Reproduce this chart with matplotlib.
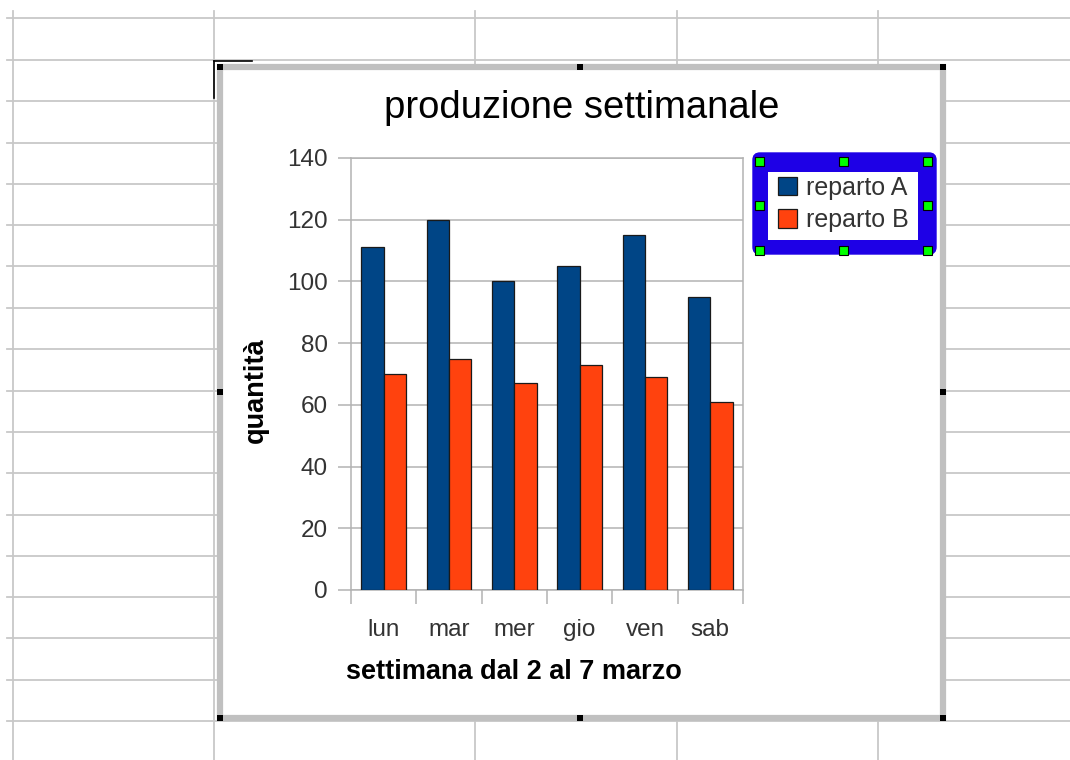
import matplotlib
matplotlib.use("Agg")
import matplotlib.pyplot as plt
from matplotlib.patches import Rectangle, FancyBboxPatch

# ---- data ----
categories = ["lun", "mar", "mer", "gio", "ven", "sab"]
reparto_a = [111, 120, 100, 105, 115, 95]
reparto_b = [70, 75, 67, 73, 69, 61]
series_names = ["reparto A", "reparto B"]
y_ticks = [0, 20, 40, 60, 80, 100, 120, 140]
title = "produzione settimanale"
x_title = "settimana dal 2 al 7 marzo"
y_title = "quantità"

COL_A = "#004586"
COL_B = "#ff420e"
GRID = "#c8c8c8"
AXGRAY = "#b3b3b3"
FONT = ["Liberation Sans", "DejaVu Sans"]
plt.rcParams["font.family"] = FONT

W, H = 1070, 760
fig = plt.figure(figsize=(W / 100, H / 100), dpi=100)

# background (spreadsheet) axes in pixel coordinates
bg = fig.add_axes([0, 0, 1, 1])
bg.set_xlim(0, W)
bg.set_ylim(H, 0)
bg.axis("off")

# spreadsheet grid
for y in [18, 60, 101, 142.5, 183.5, 225, 266, 308, 349, 390.5, 431.5,
          473, 514.5, 555.5, 597, 638, 680, 721]:
    bg.plot([7, W], [y, y], color=GRID, lw=1.3, zorder=1)
for x in [12.5, 214, 475, 677, 878]:
    bg.plot([x, x], [11, H], color=GRID, lw=1.3, zorder=1)

# chart frame (white with gray border)
bg.add_patch(Rectangle((219.5, 67), 942.5 - 219.5, 718 - 67, facecolor="white",
                       edgecolor="#c0c0c0", lw=4.5, zorder=2))
# selection handles (black)
for (hx, hy) in [(219.5, 67), (580, 67), (942.5, 67), (219.5, 392), (942.5, 392),
                 (219.5, 718), (580, 718), (942.5, 718)]:
    bg.add_patch(Rectangle((hx - 3, hy - 3), 6, 6, facecolor="black",
                           edgecolor="none", zorder=3))
# top-left cell bracket
bg.plot([214, 252], [61, 61], color="black", lw=1.2, zorder=3)
bg.plot([214, 214], [61, 98], color="black", lw=1.2, zorder=3)

# title and axis titles
bg.text(582, 118, title, fontsize=27.5, ha="center", va="baseline",
        color="black", zorder=4)
bg.text(256, 390, y_title, fontsize=19.5, fontweight="bold", rotation=90,
        ha="center", va="center", color="black", zorder=4)
bg.text(514, 672, x_title, fontsize=19.5, fontweight="bold",
        ha="center", va="center", color="black", zorder=4)

# legend box decoration
bg.add_patch(FancyBboxPatch((753, 153), 183, 101, boxstyle="round,pad=0,rounding_size=7",
                            facecolor="#1e00e6", edgecolor="#1e00e6", lw=1, zorder=3))
bg.add_patch(Rectangle((768, 172), 150, 68, facecolor="white", edgecolor="none", zorder=4))
for (gx, gy) in [(759, 161), (843, 161), (927, 161), (759, 205), (927, 205),
                 (759, 250), (843, 250), (927, 250)]:
    bg.add_patch(Rectangle((gx - 4.5, gy - 4.5), 9, 9, facecolor="#00ff00",
                           edgecolor="black", lw=0.8, zorder=5))

# main plot axes
L, R, T, B = 351, 743, 158, 590
ax = fig.add_axes([L / W, 1 - B / H, (R - L) / W, (B - T) / H])
ax.set_facecolor("none")
x = list(range(len(categories)))
bw = 0.34
ax.bar([i - bw / 2 for i in x], reparto_a, width=bw, color=COL_A,
       edgecolor="#1a1a1a", lw=0.9, zorder=3, label=series_names[0])
ax.bar([i + bw / 2 for i in x], reparto_b, width=bw, color=COL_B,
       edgecolor="#1a1a1a", lw=0.9, zorder=3, label=series_names[1])
ax.set_xlim(-0.5, len(categories) - 0.5)
ax.set_ylim(0, 140)
ax.set_yticks(y_ticks)
ax.yaxis.grid(True, color=AXGRAY, lw=1.1, zorder=0)
ax.set_axisbelow(True)
for s in ax.spines.values():
    s.set_color(AXGRAY)
    s.set_linewidth(1.1)
ax.tick_params(axis="y", length=9.5, width=1.1, color=AXGRAY, pad=7,
               labelsize=17.5, labelcolor="#333333")
# x: boundary ticks (major) and centered labels (minor)
ax.set_xticks([i - 0.5 for i in range(len(categories) + 1)])
ax.set_xticklabels([])
ax.tick_params(axis="x", which="major", length=10, width=1.1, color=AXGRAY)
ax.set_xticks(x, minor=True)
ax.set_xticklabels(categories, minor=True)
ax.tick_params(axis="x", which="minor", length=0, pad=21,
               labelsize=17.5, labelcolor="#333333")

leg = ax.legend(loc="center", bbox_to_anchor=(843 / W, 1 - 204 / H),
                bbox_transform=fig.transFigure, frameon=False, fontsize=18,
                handlelength=0.76, handleheight=0.76, handletextpad=0.36,
                labelspacing=0.35, borderpad=0.0, labelcolor="#333333")
for h in leg.legend_handles:
    h.set_edgecolor("#1a1a1a")
leg.set_zorder(10)

fig.savefig("out.png", dpi=100)
